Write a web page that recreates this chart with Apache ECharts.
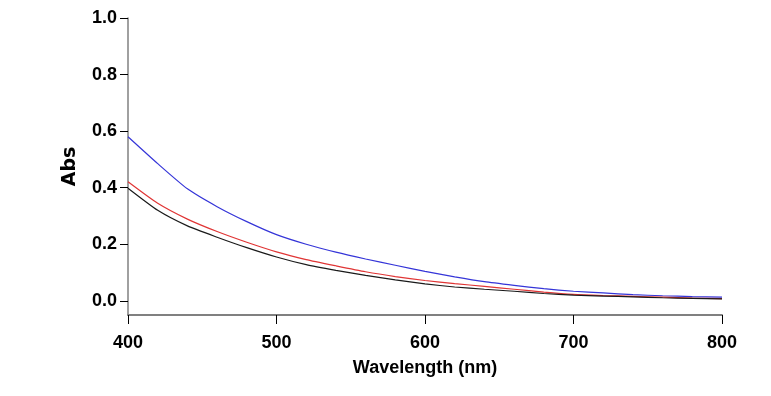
<!DOCTYPE html>
<html>
<head>
<meta charset="utf-8">
<script src="https://cdn.jsdelivr.net/npm/echarts@6/dist/echarts.min.js"></script>
<style>
  html, body { margin: 0; padding: 0; background: #fff; }
  #chart { width: 771px; height: 396px; }
</style>
</head>
<body>
<div id="chart"></div>
<script>
// wavelength (nm)
var wavelengths = [400, 420, 440, 460, 480, 500, 520, 540, 560, 580, 600, 620, 640, 660, 680, 700, 720, 740, 760, 780, 800];
var absBlue  = [0.580, 0.485, 0.396, 0.333, 0.280, 0.234, 0.200, 0.172, 0.148, 0.126, 0.104, 0.085, 0.068, 0.055, 0.043, 0.034, 0.028, 0.022, 0.018, 0.015, 0.013];
var absRed   = [0.421, 0.345, 0.289, 0.245, 0.207, 0.173, 0.146, 0.124, 0.103, 0.086, 0.072, 0.061, 0.051, 0.041, 0.031, 0.023, 0.019, 0.016, 0.013, 0.010, 0.008];
var absBlack = [0.398, 0.320, 0.265, 0.225, 0.188, 0.155, 0.128, 0.108, 0.090, 0.074, 0.060, 0.049, 0.041, 0.034, 0.026, 0.020, 0.017, 0.014, 0.011, 0.009, 0.007];
var yTicks = [0, 0.2, 0.4, 0.6, 0.8, 1.0];

function pairs(ys) {
    var out = [];
    for (var i = 0; i < wavelengths.length; i++) {
        out.push([wavelengths[i], ys[i]]);
    }
    return out;
}

var chart = echarts.init(document.getElementById('chart'));

var labelFont = {
    color: '#000',
    fontFamily: 'Liberation Sans, Arial, sans-serif',
    fontWeight: 'bold',
    fontSize: 18
};

var option = {
    animation: false,
    backgroundColor: '#fff',
    grid: { left: 128, right: 49, top: 18, bottom: 81 },
    xAxis: {
        type: 'value',
        min: 400,
        max: 800,
        interval: 100,
        name: 'Wavelength (nm)',
        nameLocation: 'middle',
        nameGap: 44,
        nameTextStyle: labelFont,
        axisLine: { onZero: false, lineStyle: { color: '#808080', width: 2 } },
        axisTick: { show: true, length: 9, lineStyle: { color: '#000', width: 1 } },
        axisLabel: Object.assign({ margin: 19 }, labelFont),
        splitLine: { show: false }
    },
    yAxis: {
        type: 'value',
        min: -0.05,
        max: 1.0,
        name: 'Abs',
        nameLocation: 'middle',
        nameGap: 48,
        nameTextStyle: {
            color: '#000',
            fontFamily: 'DejaVu Sans, Verdana, sans-serif',
            fontWeight: 'bold',
            fontSize: 19
        },
        axisLine: { show: true, lineStyle: { color: '#808080', width: 1.5 } },
        axisTick: { show: true, length: 8, customValues: yTicks, lineStyle: { color: '#000', width: 1 } },
        axisLabel: Object.assign({
            margin: 11,
            customValues: yTicks,
            formatter: function (v) { return v.toFixed(1); }
        }, labelFont),
        splitLine: { show: false }
    },
    series: [
        {
            type: 'line',
            data: pairs(absBlue),
            smooth: 0.2,
            showSymbol: false,
            lineStyle: { color: '#3535d8', width: 1.2 }
        },
        {
            type: 'line',
            data: pairs(absRed),
            smooth: 0.2,
            showSymbol: false,
            lineStyle: { color: '#e03535', width: 1.2 }
        },
        {
            type: 'line',
            data: pairs(absBlack),
            smooth: 0.2,
            showSymbol: false,
            lineStyle: { color: '#1a1a1a', width: 1.2 }
        }
    ]
};

chart.setOption(option);
</script>
</body>
</html>
